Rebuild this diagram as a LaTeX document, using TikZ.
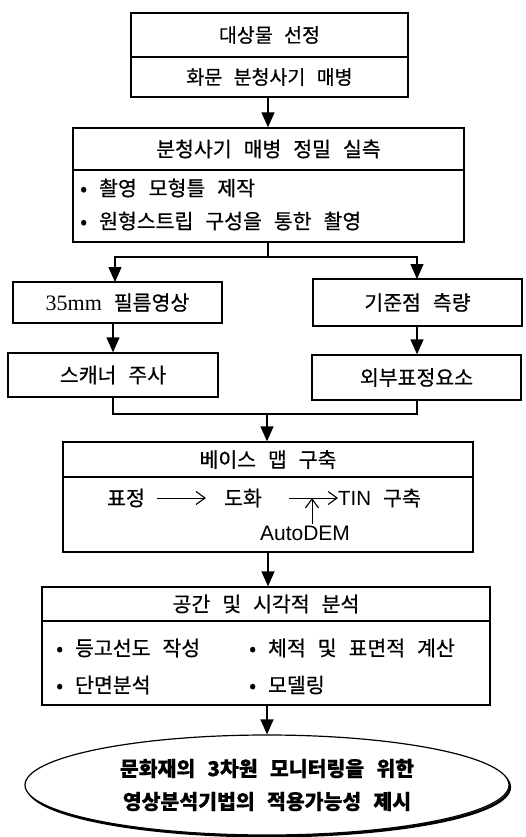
\documentclass[tikz,border=0pt]{standalone}
\usepackage{fontspec}
\setmainfont{Noto Sans CJK KR}[WordSpace=2.6, FakeBold=0.6]
\newfontfamily\numserif{Liberation Serif}
\newfontfamily\latsans{Liberation Sans}
\usetikzlibrary{arrows.meta,shapes.geometric}
\begin{document}
\begin{tikzpicture}[x=1pt,y=-1pt,
  every node/.style={font=\fontsize{20.5}{22}\selectfont, inner sep=0pt},
  box/.style={draw, line width=1.3pt, fill=white},
  txt/.style={anchor=west},
  arr/.style={line width=1.3pt, -{Triangle[width=13pt,length=15pt]}},
  ln/.style={line width=1.3pt},
  tarr/.style={line width=1pt, -{Straight Barb[length=9pt,width=13pt,line width=1.1pt]}}]
\useasboundingbox (0,0) rectangle (526,837);
\fill[white] (0,0) rectangle (526,837);

% Box 1
\node[box, minimum width=277pt, minimum height=44pt, font=\fontsize{19.5}{21}\selectfont] (b1t) at (269.5,35) {대상물 선정};
\node[box, minimum width=277pt, minimum height=40pt, font=\fontsize{19.5}{21}\selectfont] (b1s) at (269.5,77) {화문 분청사기 매병};

% Box 2
\node[box, minimum width=391pt, minimum height=42pt] (b2t) at (268.5,149) {분청사기 매병 정밀 실측};
\node[box, minimum width=391pt, minimum height=72pt] (b2b) at (268.5,206) {};
\node[txt] (b2i1) at (80,188) {• 촬영 모형틀 제작};
\node[txt] (b2i2) at (80,221) {• 원형스트립 구성을 통한 촬영};

\draw[arr] (b1s.south -| 268,0) -- (b2t.north -| 268,0);

% Branches
\node[box, minimum width=209pt, minimum height=41pt] (fa) at (117.5,302.5) {{\numserif\fontsize{22}{24}\selectfont 35mm} 필름영상};
\node[box, minimum width=210pt, minimum height=44pt] (fb) at (113,375) {스캐너 주사};
\node[box, minimum width=209pt, minimum height=47pt] (gc) at (417.5,302.5) {기준점 측량};
\node[box, minimum width=209pt, minimum height=45pt] (gd) at (416.5,377.5) {외부표정요소};

\coordinate (sp) at (268,257);
\draw[ln] (b2b.south -| sp) -- (sp);
\draw[arr] (sp) -| (115,282);
\draw[arr] (sp) -| (417,279);
\draw[arr] (fa.south -| 113,0) -- (fb.north);
\draw[arr] (gc.south -| 417,0) -- (gd.north -| 417,0);

% Base map
\node[box, minimum width=410pt, minimum height=35pt] (bmh) at (268,459.5) {베이스 맵 구축};
\node[box, minimum width=410pt, minimum height=75pt] (bmb) at (268,514.5) {};
\coordinate (jn) at (267,414);
\draw[ln] (fb.south) |- (jn);
\draw[ln] (gd.south -| 417,0) |- (jn);
\draw[arr] (jn) -- (bmh.north -| jn);

\node (pj) at (126,498) {표정};
\node (dh) at (243,498) {도화};
\node[anchor=west] (tin) at (338,498) {{\latsans TIN} 구축};
\node[font=\latsans\fontsize{21}{23}\selectfont] (ad) at (305,533) {AutoDEM};
\draw[tarr] ([xshift=12pt]pj.east) -- ([xshift=-18pt]dh.west);
\draw[tarr] ([xshift=27pt]dh.east) -- (tin.west);
\draw[tarr] ([xshift=7pt,yshift=1pt]ad.north) -- ([xshift=7pt]ad.north |- dh.center);

% Analysis
\node[box, minimum width=448pt, minimum height=34pt] (anh) at (266,604) {공간 및 시각적 분석};
\node[box, minimum width=448pt, minimum height=84pt] (anb) at (266,663) {};
\draw[arr] (bmb.south) -- (anh.north -| bmb.south);
\node[txt] (a1) at (56,648) {• 등고선도 작성};
\node[txt] (a2) at (249,648) {• 체적 및 표면적 계산};
\node[txt] (a3) at (56,685) {• 단면분석};
\node[txt] (a4) at (249,685) {• 모델링};

% Goal ellipse
\draw[line width=2.6pt] (268.8,787.2) ellipse (241 and 49);
\node[ellipse, draw, line width=1.2pt, fill=white, minimum width=484pt, minimum height=100pt, align=center, font=\bfseries\fontsize{20.5}{33}\selectfont] (goal) at (267,785) {문화재의 3차원 모니터링을 위한\\영상분석기법의 적용가능성 제시};
\draw[arr] (anb.south -| goal.north) -- (goal.north);
\end{tikzpicture}
\end{document}
